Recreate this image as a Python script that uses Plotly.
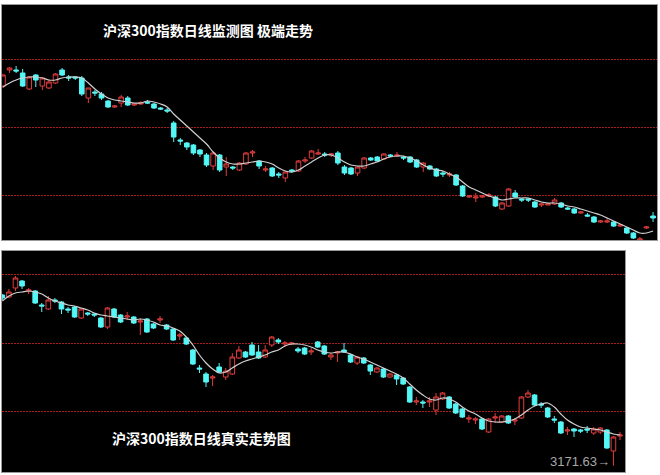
import plotly.graph_objects as go

# ---------------- Top panel: 沪深300指数日线监测图 极端走势 ----------------
top_open = [3870,3950,3950,3935,3855,3925,3870,3860,3885,3950,3915,3915,3910,3810,3840,3830,3795,3765,3785,3810,
            3775,3780,3790,3780,3760,3750,3685,3600,3585,3575,3550,3525,3470,3525,3465,3465,3450,3480,3535,3495,
            3450,3460,3430,3410,3450,3445,3495,3510,3530,3530,3525,3535,3465,3460,3435,3460,3510,3515,3505,3525,
            3520,3515,3515,3500,3465,3470,3455,3435,3425,3425,3370,3315,3310,3315,3320,3315,3255,3270,3335,3305,
            3305,3290,3275,3275,3280,3285,3260,3255,3235,3225,3215,3190,3190,3190,3170,3160,3135,3100,3160,3220]
top_high = [3930,3965,3970,3955,3920,3930,3915,3900,3935,3960,3925,3920,3920,3860,3850,3840,3800,3775,3825,3820,
            3785,3795,3800,3785,3765,3760,3695,3610,3590,3580,3555,3535,3540,3530,3515,3470,3490,3540,3550,3500,
            3470,3465,3440,3445,3455,3500,3515,3550,3555,3540,3535,3545,3475,3465,3470,3515,3515,3520,3535,3530,
            3540,3520,3520,3505,3490,3475,3460,3445,3440,3430,3375,3325,3335,3325,3335,3320,3290,3360,3350,3310,
            3310,3295,3285,3285,3310,3290,3265,3260,3245,3235,3220,3200,3210,3195,3180,3165,3140,3115,3170,3240]
top_low = [3860,3935,3935,3865,3850,3865,3850,3855,3880,3920,3895,3900,3820,3785,3820,3800,3760,3760,3765,3770,
           3770,3775,3780,3755,3750,3735,3590,3575,3550,3525,3515,3465,3450,3440,3420,3450,3445,3475,3515,3455,
           3440,3415,3410,3390,3435,3440,3485,3505,3525,3515,3515,3475,3425,3425,3420,3455,3495,3490,3500,3515,
           3515,3500,3485,3460,3440,3450,3415,3415,3415,3370,3315,3310,3290,3310,3315,3265,3250,3265,3310,3290,
           3290,3260,3265,3275,3275,3260,3250,3230,3230,3215,3185,3185,3185,3165,3165,3130,3105,3085,3155,3190]
top_close = [3925,3960,3945,3870,3915,3900,3910,3890,3930,3925,3910,3910,3830,3860,3835,3810,3765,3770,3815,3775,
             3780,3785,3785,3760,3755,3745,3615,3595,3565,3535,3530,3475,3535,3450,3480,3460,3485,3535,3540,3470,
             3455,3420,3425,3440,3445,3495,3500,3545,3535,3525,3530,3485,3435,3430,3465,3510,3500,3495,3530,3520,
             3525,3510,3490,3465,3485,3455,3420,3430,3430,3375,3320,3320,3315,3320,3325,3270,3285,3355,3315,3300,
             3300,3265,3280,3280,3300,3265,3255,3235,3240,3220,3190,3195,3195,3170,3175,3135,3110,3105,3165,3210]
top_ma = [3865,3885,3900,3910,3915,3915,3910,3900,3900,3910,3915,3915,3910,3885,3855,3830,3810,3800,3795,3790,
          3785,3785,3795,3790,3780,3765,3730,3700,3670,3640,3610,3580,3540,3510,3490,3480,3480,3485,3490,3495,
          3490,3480,3460,3445,3440,3450,3470,3490,3510,3525,3525,3510,3490,3475,3470,3470,3480,3490,3505,3515,
          3520,3520,3510,3495,3475,3460,3450,3445,3430,3415,3390,3365,3350,3335,3320,3310,3300,3305,3310,3310,
          3310,3300,3290,3285,3285,3280,3270,3265,3255,3245,3235,3225,3210,3195,3180,3165,3150,3135,3135,3145]
top_grid_levels = [4005, 3665, 3325]

# ---------------- Bottom panel: 沪深300指数日线真实走势图 ----------------
bot_open = [4025,4015,4060,4095,4045,4045,3975,3955,4000,3990,3955,3965,3910,3935,3930,3910,3865,3955,3925,3915,
            3915,3890,3905,3880,3900,3875,3855,3820,3810,3750,3660,3630,3610,3665,3615,3630,3710,3740,3775,3740,
            3715,3775,3800,3780,3780,3755,3760,3740,3790,3770,3715,3735,3750,3725,3685,3710,3675,3640,3655,3615,
            3625,3610,3565,3490,3490,3490,3450,3505,3515,3480,3455,3405,3400,3405,3340,3410,3390,3420,3395,3410,
            3515,3525,3480,3460,3405,3390,3345,3355,3350,3355,3335,3340,3350,3245,3320]
bot_high = [4030,4055,4120,4100,4060,4050,3985,4020,4010,3995,3965,3970,3960,3940,3935,3915,3965,3960,3930,3940,
            3920,3910,3910,3885,3920,3880,3860,3835,3815,3755,3675,3640,3625,3685,3660,3735,3770,3745,3790,3775,
            3775,3820,3810,3795,3790,3765,3765,3760,3795,3775,3735,3745,3785,3730,3720,3715,3680,3665,3660,3635,
            3630,3615,3570,3515,3500,3515,3535,3540,3520,3485,3460,3425,3415,3410,3410,3435,3425,3425,3410,3520,
            3550,3530,3490,3465,3420,3395,3365,3360,3355,3370,3365,3365,3355,3320,3340]
bot_low = [4000,4010,4045,4055,4030,3980,3940,3950,3985,3930,3935,3910,3905,3920,3915,3860,3855,3910,3885,3900,
           3880,3825,3835,3855,3885,3850,3795,3800,3775,3675,3635,3565,3570,3635,3600,3625,3705,3710,3720,3705,
           3710,3765,3780,3765,3775,3735,3725,3725,3760,3725,3700,3690,3735,3685,3675,3680,3625,3635,3610,3610,
           3575,3575,3485,3475,3460,3465,3425,3500,3455,3430,3410,3385,3380,3350,3335,3385,3385,3380,3375,3405,
           3510,3470,3460,3410,3385,3330,3325,3315,3335,3335,3325,3330,3255,3171.63,3300]
bot_close = [4010,4040,4110,4070,4050,3985,3970,4000,3995,3955,3950,3915,3955,3930,3925,3865,3960,3915,3890,3920,
             3885,3895,3840,3860,3905,3855,3800,3825,3780,3680,3655,3590,3615,3640,3645,3715,3750,3715,3725,3710,
             3750,3815,3790,3785,3785,3745,3730,3745,3765,3730,3725,3740,3740,3690,3715,3685,3645,3660,3615,3630,
             3605,3580,3490,3495,3485,3495,3515,3535,3460,3435,3415,3410,3405,3355,3405,3415,3420,3385,3400,3515,
             3535,3475,3475,3415,3400,3335,3350,3345,3345,3350,3355,3360,3260,3315,3325]
bot_ma = [3995,4020,4035,4040,4045,4040,4030,4010,3995,3985,3975,3970,3960,3950,3935,3925,3920,3915,3910,3905,
          3900,3905,3900,3890,3875,3870,3860,3845,3815,3775,3725,3685,3655,3635,3640,3660,3680,3695,3705,3715,
          3725,3740,3750,3770,3780,3780,3775,3765,3750,3740,3735,3740,3740,3730,3715,3705,3690,3675,3660,3645,
          3630,3610,3580,3550,3525,3505,3500,3510,3505,3490,3465,3445,3430,3410,3395,3390,3390,3395,3405,3425,
          3450,3470,3480,3485,3465,3430,3400,3380,3365,3360,3355,3350,3340,3330,3325]
bot_grid_levels = [4130, 3785, 3445]
low_label = "3171.63→"

UP = "#e23c3c"
DOWN = "#55f6f6"
W, H = 660, 475


def px_x(a, b):
    return [a / W, b / W]


def px_y(top, bottom):
    return [1 - bottom / H, 1 - top / H]


fig = go.Figure()

fig.add_trace(go.Scatter(x=list(range(len(top_ma))), y=top_ma, mode="lines",
                         line=dict(color="#d0d0d0", width=1.2, shape="spline"),
                         xaxis="x", yaxis="y", hoverinfo="skip", showlegend=False))
fig.add_trace(go.Candlestick(x=list(range(len(top_open))), open=top_open, high=top_high,
                             low=top_low, close=top_close, xaxis="x", yaxis="y",
                             increasing=dict(line=dict(color=UP, width=1), fillcolor="black"),
                             decreasing=dict(line=dict(color=DOWN, width=1), fillcolor=DOWN),
                             whiskerwidth=0, showlegend=False))

fig.add_trace(go.Scatter(x=list(range(len(bot_ma))), y=bot_ma, mode="lines",
                         line=dict(color="#d0d0d0", width=1.2, shape="spline"),
                         xaxis="x2", yaxis="y2", hoverinfo="skip", showlegend=False))
fig.add_trace(go.Candlestick(x=list(range(len(bot_open))), open=bot_open, high=bot_high,
                             low=bot_low, close=bot_close, xaxis="x2", yaxis="y2",
                             increasing=dict(line=dict(color=UP, width=1), fillcolor="black"),
                             decreasing=dict(line=dict(color=DOWN, width=1), fillcolor=DOWN),
                             whiskerwidth=0, showlegend=False))

axis_common = dict(showticklabels=False, ticks="", zeroline=False, showline=True,
                   linecolor="#9a9a9a", linewidth=1, mirror=True)
ygrid = dict(showgrid=True, gridcolor="#a81c1c", griddash="2px,1px", gridwidth=1)

low_idx = bot_low.index(min(bot_low))

fig.update_layout(
    width=W, height=H,
    margin=dict(l=0, r=0, t=0, b=0),
    paper_bgcolor="white", plot_bgcolor="black",
    showlegend=False,
    boxgap=0.3, boxgroupgap=0,
    xaxis=dict(domain=px_x(2, 657), range=[-0.15, 99.6], showgrid=False,
               rangeslider=dict(visible=False), anchor="y", **axis_common),
    yaxis=dict(domain=px_y(5, 240), range=[3100, 4275], tickvals=top_grid_levels,
               anchor="x", **ygrid, **axis_common),
    xaxis2=dict(domain=px_x(2, 625), range=[-0.05, 94.76], showgrid=False,
                rangeslider=dict(visible=False), anchor="y2", **axis_common),
    yaxis2=dict(domain=px_y(251, 472), range=[3140, 4245], tickvals=bot_grid_levels,
                anchor="x2", **ygrid, **axis_common),
    annotations=[
        dict(text="<b>沪深300指数日线监测图 极端走势</b>", xref="paper", yref="paper",
             x=208 / W, y=1 - 30 / H, xanchor="center", yanchor="middle", showarrow=False,
             font=dict(family="Noto Sans CJK SC", size=14, color="white")),
        dict(text="<b>沪深300指数日线真实走势图</b>", xref="paper", yref="paper",
             x=202 / W, y=1 - 438 / H, xanchor="center", yanchor="middle", showarrow=False,
             font=dict(family="Noto Sans CJK SC", size=14, color="white")),
        dict(text=low_label, xref="x2", yref="y2", x=low_idx, y=min(bot_low),
             xanchor="right", yanchor="middle", xshift=-1, yshift=4, showarrow=False,
             font=dict(family="Liberation Sans", size=13, color="#a8a8a8")),
    ],
)

fig.write_html("out.html", config={"displayModeBar": False},
               post_script="document.body.style.margin='0';document.body.style.overflow='hidden';")
